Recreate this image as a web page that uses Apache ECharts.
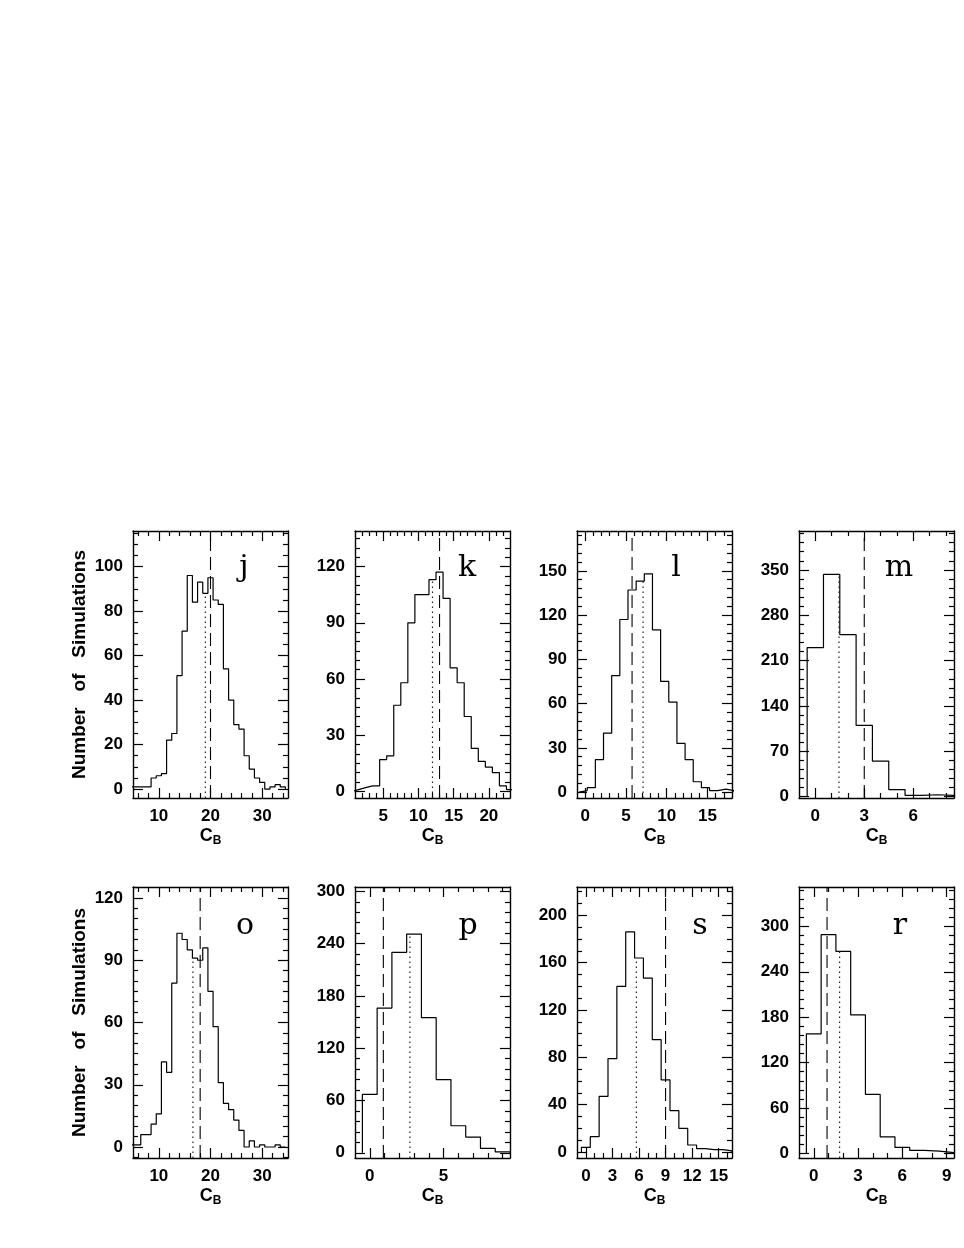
<!DOCTYPE html>
<html><head><meta charset="utf-8">
<script src="https://cdn.jsdelivr.net/npm/echarts@6/dist/echarts.min.js"></script>
<style>html,body{margin:0;padding:0;background:#fff}#c{width:964px;height:1248px}</style>
</head><body><div id="c"></div>
<script>
// ---------- DATA (bin width 1; first = centre of first bin) ----------
const jCounts = [1,1,1,1,5,6,7,22,25,51,71,96,84,93,88,95,85,83,54,40,29,27,15,9,5,3,0,1,2,1];
const jFirst = 5, jDashed = 20, jDotted = 19;
const jXTicks = [10,20,30], jYTicks = [0,20,40,60,80,100];

const kCounts = [1,2,3,3,17,19,46,58,90,105,105,113,117,103,66,58,40,23,16,13,10,3,1];
const kFirst = 1, kDashed = 13, kDotted = 12;
const kXTicks = [5,10,15,20], kYTicks = [0,30,60,90,120];

const lCounts = [1,3,22,40,79,117,137,143,148,110,75,61,33,22,7,3,1,2,1];
const lFirst = -0.25, lDashed = 5.75, lDotted = 7.1;
const lXTicks = [0,5,10,15], lYTicks = [0,30,60,90,120,150];

const mCounts = [230,343,250,110,55,11,2,3,2];
const mFirst = 0, mDashed = 3, mDotted = 1.45;
const mXTicks = [0,3,6], mYTicks = [0,70,140,210,280,350];

const oCounts = [1,1,6,6,11,16,41,36,79,103,100,95,91,90,96,75,58,31,21,18,13,8,0,3,0,1,0,0,1,0];
const oFirst = 5, oDashed = 18, oDotted = 16.6;
const oXTicks = [10,20,30], oYTicks = [0,30,60,90,120];

const pCounts = [67,166,230,251,155,84,31,18,5,1];
const pFirst = 0, pDashed = 0.92, pDotted = 2.72;
const pXTicks = [0,5], pYTicks = [0,60,120,180,240,300];

const sCounts = [4,13,47,79,140,186,164,147,95,61,35,20,6,3,2,2,1];
const sFirst = 0, sDashed = 9, sDotted = 5.7;
const sXTicks = [0,3,6,9,12,15], sYTicks = [0,40,80,120,160,200];

const rCounts = [158,289,267,183,78,22,8,4,3,1];
const rFirst = 0, rDashed = 0.9, rDotted = 1.75;
const rXTicks = [0,3,6,9], rYTicks = [0,60,120,180,240,300];

const panelLetters = ['j','k','l','m','o','p','s','r'];
const xTitle = 'C{b|B}';
const yTitle = 'Number   of   Simulations';

// ---------- LAYOUT ----------
const layout = [
  {left:133, top:531, h:267, x:[5,35],   y:[-4,116],    xm:2, ym:5,  lx:244},
  {left:355, top:531, h:267, x:[1,23],   y:[-3.5,139],  xm:1, ym:5,  lx:467},
  {left:577, top:531, h:267, x:[-1,18],  y:[-4,177],    xm:1, ym:6,  lx:676},
  {left:799, top:531, h:267, x:[-1,8.5], y:[-2,410],    xm:1, ym:14, lx:899},
  {left:133, top:887, h:271, x:[5,35],   y:[-5.3,125.3],xm:2, ym:5,  lx:245},
  {left:355, top:887, h:271, x:[-1,9.5], y:[-6,305],    xm:1, ym:12, lx:468},
  {left:577, top:887, h:271, x:[-1,16.5],y:[-5,224],    xm:1, ym:10, lx:700},
  {left:799, top:887, h:271, x:[-1,9.5], y:[-6,352],    xm:1, ym:12, lx:900}
];
const panels = [
  {counts:jCounts, first:jFirst, dashed:jDashed, dotted:jDotted, xt:jXTicks, yt:jYTicks},
  {counts:kCounts, first:kFirst, dashed:kDashed, dotted:kDotted, xt:kXTicks, yt:kYTicks},
  {counts:lCounts, first:lFirst, dashed:lDashed, dotted:lDotted, xt:lXTicks, yt:lYTicks},
  {counts:mCounts, first:mFirst, dashed:mDashed, dotted:mDotted, xt:mXTicks, yt:mYTicks},
  {counts:oCounts, first:oFirst, dashed:oDashed, dotted:oDotted, xt:oXTicks, yt:oYTicks},
  {counts:pCounts, first:pFirst, dashed:pDashed, dotted:pDotted, xt:pXTicks, yt:pYTicks},
  {counts:sCounts, first:sFirst, dashed:sDashed, dotted:sDotted, xt:sXTicks, yt:sYTicks},
  {counts:rCounts, first:rFirst, dashed:rDashed, dotted:rDotted, xt:rXTicks, yt:rYTicks}
];

const W = 155, MAJ = 10, MIN = 5;
const FONT = 'Liberation Sans';
const labelStyle = {color:'#000', fontSize:17, fontWeight:'bold', fontFamily:FONT};

function minorVals(range, step, majors){
  const out = [];
  const start = Math.ceil(range[0]/step - 1e-9)*step;
  for (let v = start; v <= range[1] + 1e-9; v += step){
    const r = Math.round(v*1e6)/1e6;
    if (r > range[0] && r < range[1] && !majors.some(m => Math.abs(m-r) < 1e-6)) out.push(r);
  }
  return out;
}

const option = {animation:false, backgroundColor:'#fff', grid:[], xAxis:[], yAxis:[], series:[], graphic:[]};

function axis(kind, gi, L, pos, vals, len, showLine, labels, extra){
  const range = kind === 'x' ? L.x : L.y;
  return Object.assign({
    type:'value', gridIndex:gi, position:pos, min:range[0], max:range[1],
    axisLine:{show:showLine, onZero:false, lineStyle:{color:'#000', width:1.4}},
    axisTick:{show:true, inside:true, length:len, customValues:vals, lineStyle:{color:'#000', width:1.2}},
    axisLabel: labels ? Object.assign({show:true, customValues:labels, margin:kind==='x'?10:10}, labelStyle) : {show:false},
    splitLine:{show:false}, minorTick:{show:false}, silent:true
  }, extra || {});
}

panels.forEach((P, i) => {
  const L = layout[i];
  option.grid.push({left:L.left, top:L.top, width:W, height:L.h, show:false});
  const xMinor = minorVals(L.x, L.xm, P.xt);
  const yMinor = minorVals(L.y, L.ym, P.yt);
  const xi = option.xAxis.length, yi = option.yAxis.length;
  option.xAxis.push(axis('x', i, L, 'bottom', P.xt, MAJ, true, P.xt, {
    name:xTitle, nameLocation:'middle', nameGap:27,
    nameTextStyle:{color:'#000', fontSize:18, fontWeight:'bold', fontFamily:FONT, verticalAlign:'top', lineHeight:21,
      rich:{b:{fontSize:12, fontWeight:'bold', fontFamily:FONT, color:'#000', verticalAlign:'bottom', lineHeight:21}}}
  }));
  option.xAxis.push(axis('x', i, L, 'bottom', xMinor, MIN, false, null));
  option.xAxis.push(axis('x', i, L, 'top', P.xt, MAJ, true, null));
  option.xAxis.push(axis('x', i, L, 'top', xMinor, MIN, false, null));
  const yExtra = (i % 4 === 0) ? {name:yTitle, nameLocation:'middle', nameRotate:90, nameGap:44,
    nameTextStyle:{color:'#000', fontSize:19, fontWeight:'bold', fontFamily:FONT}} : {};
  option.yAxis.push(axis('y', i, L, 'left', P.yt, MAJ, true, P.yt, yExtra));
  option.yAxis.push(axis('y', i, L, 'left', yMinor, MIN, false, null));
  option.yAxis.push(axis('y', i, L, 'right', P.yt, MAJ, true, null));
  option.yAxis.push(axis('y', i, L, 'right', yMinor, MIN, false, null));

  // histogram outline
  const pts = [];
  P.counts.forEach((v, k) => {
    const c = P.first + k;
    if (k === 0) pts.push([c - 0.5, 0]);
    pts.push([c - 0.5, v], [c + 0.5, v]);
    if (k === P.counts.length - 1) pts.push([c + 0.5, 0]);
  });
  const common = {type:'line', xAxisIndex:xi, yAxisIndex:yi, symbol:'none', showSymbol:false, silent:true, clip:true, animation:false};
  option.series.push(Object.assign({data:pts, lineStyle:{color:'#000', width:1.2}}, common));
  option.series.push(Object.assign({data:[[P.dashed, L.y[0]], [P.dashed, L.y[1]]],
    lineStyle:{color:'#000', width:1.1, type:[13,6]}}, common));
  const idx = Math.floor(P.dotted - (P.first - 0.5));
  const hgt = P.counts[Math.max(0, Math.min(P.counts.length-1, idx))];
  option.series.push(Object.assign({data:[[P.dotted, L.y[0]], [P.dotted, hgt]],
    lineStyle:{color:'#222', width:1.2, type:[1.5,3.5]}}, common));

  option.graphic.push({type:'text', x:L.lx, y:(i < 4 ? 568 : 926), silent:true,
    style:{text:panelLetters[i], fill:'#000', font:'30px "DejaVu Serif"', textAlign:'center', textVerticalAlign:'middle', verticalAlign:'middle'}});
});

const chart = echarts.init(document.getElementById('c'), null, {renderer:'canvas'});
chart.setOption(option);
</script></body></html>
